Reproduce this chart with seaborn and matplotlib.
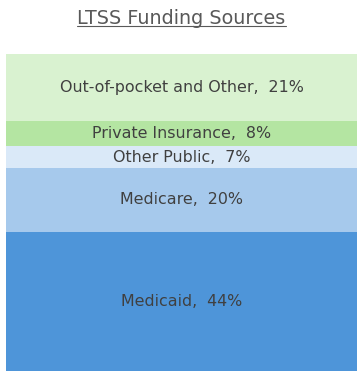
import numpy as np
import pandas as pd
import matplotlib
matplotlib.use("Agg")
import matplotlib.pyplot as plt
import seaborn as sns
from matplotlib.lines import Line2D

categories = ["Medicaid", "Medicare", "Other Public", "Private Insurance", "Out-of-pocket and Other"]
values = [44, 20, 7, 8, 21]
colors = ["#4E95D9", "#A6C9EC", "#DAE9F8", "#B4E5A2", "#D9F2D0"]
title = "LTSS Funding Sources"

sns.set_theme(style="white")
plt.rcParams["font.family"] = ["DejaVu Sans"]

W, H = 363, 377
fig = plt.figure(figsize=(W / 100, H / 100), dpi=100)
ax = fig.add_axes([6 / W, (H - 371) / H, (357 - 6) / W, (371 - 54) / H])

cum = np.cumsum(values)
# draw from top (largest cumulative) down so segments appear stacked
for i in range(len(values) - 1, -1, -1):
    df = pd.DataFrame({"x": ["LTSS"], "y": [cum[i]]})
    sns.barplot(data=df, x="x", y="y", color=colors[i], saturation=1,
                width=1, linewidth=0, ax=ax)

for i, (cat, v) in enumerate(zip(categories, values)):
    mid = cum[i] - v / 2
    ax.text(0, mid, f"{cat},  {v}%", ha="center", va="center",
            fontsize=11.4, color="#404040")

ax.set_xlim(-0.5, 0.5)
ax.set_ylim(0, 100)
ax.axis("off")

t = fig.text(0.5, 1 - 18 / H, title, ha="center", va="center",
             fontsize=13.8, color="#595959")
fig.canvas.draw()
bb = t.get_window_extent()
y_line = 1 - 26 / H
fig.add_artist(Line2D([bb.x0 / W, bb.x1 / W], [y_line, y_line],
                      color="#595959", linewidth=0.8))

fig.savefig("out.png", dpi=100)
